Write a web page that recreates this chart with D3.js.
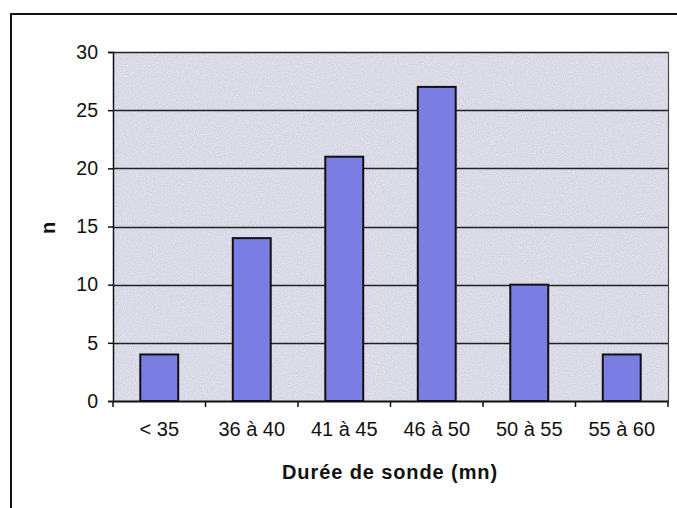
<!DOCTYPE html>
<html>
<head>
<meta charset="utf-8">
<script src="https://cdn.jsdelivr.net/npm/d3@7/dist/d3.min.js"></script>
<style>
  html, body { margin: 0; padding: 0; background: #fff; }
  svg { display: block; }
  text { font-family: Arial, "Liberation Sans", sans-serif; fill: #111; }
</style>
</head>
<body>
<script>
// Distribution of probe durations
const categories = ["< 35", "36 à 40", "41 à 45", "46 à 50", "50 à 55", "55 à 60"];
const counts = [4, 14, 21, 27, 10, 4];
const yTicks = [0, 5, 10, 15, 20, 25, 30];
const xTitle = "Durée de sonde (mn)";
const yTitle = "n";

const W = 677, H = 508;
const plot = { left: 113, right: 668, top: 52, bottom: 401 };

const svg = d3.select("body").append("svg").attr("width", W).attr("height", H);

// textured grey background of the plot area
const defs = svg.append("defs");
const f = defs.append("filter").attr("id", "grain").attr("x", 0).attr("y", 0).attr("width", 1).attr("height", 1);
f.append("feTurbulence").attr("type", "fractalNoise").attr("baseFrequency", 0.9).attr("numOctaves", 2).attr("seed", 3).attr("result", "noise");
f.append("feColorMatrix").attr("in", "noise").attr("type", "matrix")
  .attr("values", "0 0 0 0 1  0 0 0 0 1  0 0 0 0 1  0 0 0 0.8 -0.25").attr("result", "speck");
f.append("feComposite").attr("in", "speck").attr("in2", "SourceGraphic").attr("operator", "atop");

// outer frame (left and top edges visible)
svg.append("path")
  .attr("d", `M11,${H + 2} L11,14 L${W + 2},14`)
  .attr("fill", "none").attr("stroke", "#111").attr("stroke-width", 2);

const x = d3.scaleBand().domain(categories).range([plot.left, plot.right]).padding(0);
const y = d3.scaleLinear().domain([0, 30]).range([plot.bottom, plot.top]);

svg.append("rect")
  .attr("x", plot.left).attr("y", plot.top)
  .attr("width", plot.right - plot.left).attr("height", plot.bottom - plot.top)
  .attr("fill", "#d3d3e3").attr("filter", "url(#grain)");

// horizontal gridlines
svg.append("g").selectAll("line").data(yTicks.filter(v => v > 0)).join("line")
  .attr("x1", plot.left).attr("x2", plot.right)
  .attr("y1", d => Math.round(y(d)) + 0.5).attr("y2", d => Math.round(y(d)) + 0.5)
  .attr("stroke", "#222").attr("stroke-width", 1.4);

// right border of the plot area
svg.append("line")
  .attr("x1", plot.right + 0.5).attr("x2", plot.right + 0.5)
  .attr("y1", plot.top).attr("y2", plot.bottom)
  .attr("stroke", "#444").attr("stroke-width", 1.2);

// bars
const barW = x.bandwidth() * 0.41;
svg.append("g").selectAll("rect").data(categories).join("rect")
  .attr("x", d => x(d) + (x.bandwidth() - barW) / 2)
  .attr("y", (d, i) => y(counts[i]))
  .attr("width", barW)
  .attr("height", (d, i) => y(0) - y(counts[i]))
  .attr("fill", "#7a7de2")
  .attr("stroke", "#111").attr("stroke-width", 2);

// y axis
const yAxis = svg.append("g")
  .attr("transform", `translate(${plot.left},0)`)
  .call(d3.axisLeft(y).tickValues(yTicks).tickSize(5).tickPadding(10));
yAxis.select(".domain").attr("stroke", "#111").attr("stroke-width", 1.5);
yAxis.selectAll(".tick line").attr("stroke", "#111").attr("stroke-width", 1.5);
yAxis.selectAll(".tick text").style("font-size", "19.5px").attr("fill", "#111");

// x axis with tick marks between categories
const xAxis = svg.append("g")
  .attr("transform", `translate(0,${plot.bottom})`)
  .call(d3.axisBottom(x).tickSize(0).tickPadding(21));
xAxis.select(".domain").attr("stroke", "#111").attr("stroke-width", 2);
xAxis.selectAll(".tick text").style("font-size", "20px").attr("fill", "#111");
const edges = categories.map(c => x(c)).concat([plot.right]);
xAxis.append("g").selectAll("line").data(edges).join("line")
  .attr("x1", d => d).attr("x2", d => d)
  .attr("y1", 0).attr("y2", 6)
  .attr("stroke", "#111").attr("stroke-width", 1.5);

// axis titles
svg.append("text")
  .attr("x", 390).attr("y", 479)
  .attr("text-anchor", "middle")
  .style("font-size", "20px").style("font-weight", "bold").style("letter-spacing", "0.9px")
  .text(xTitle);

svg.append("text")
  .attr("transform", `translate(55,228) rotate(-90)`)
  .attr("text-anchor", "middle")
  .style("font-size", "20px").style("font-weight", "bold")
  .text(yTitle);
</script>
</body>
</html>
